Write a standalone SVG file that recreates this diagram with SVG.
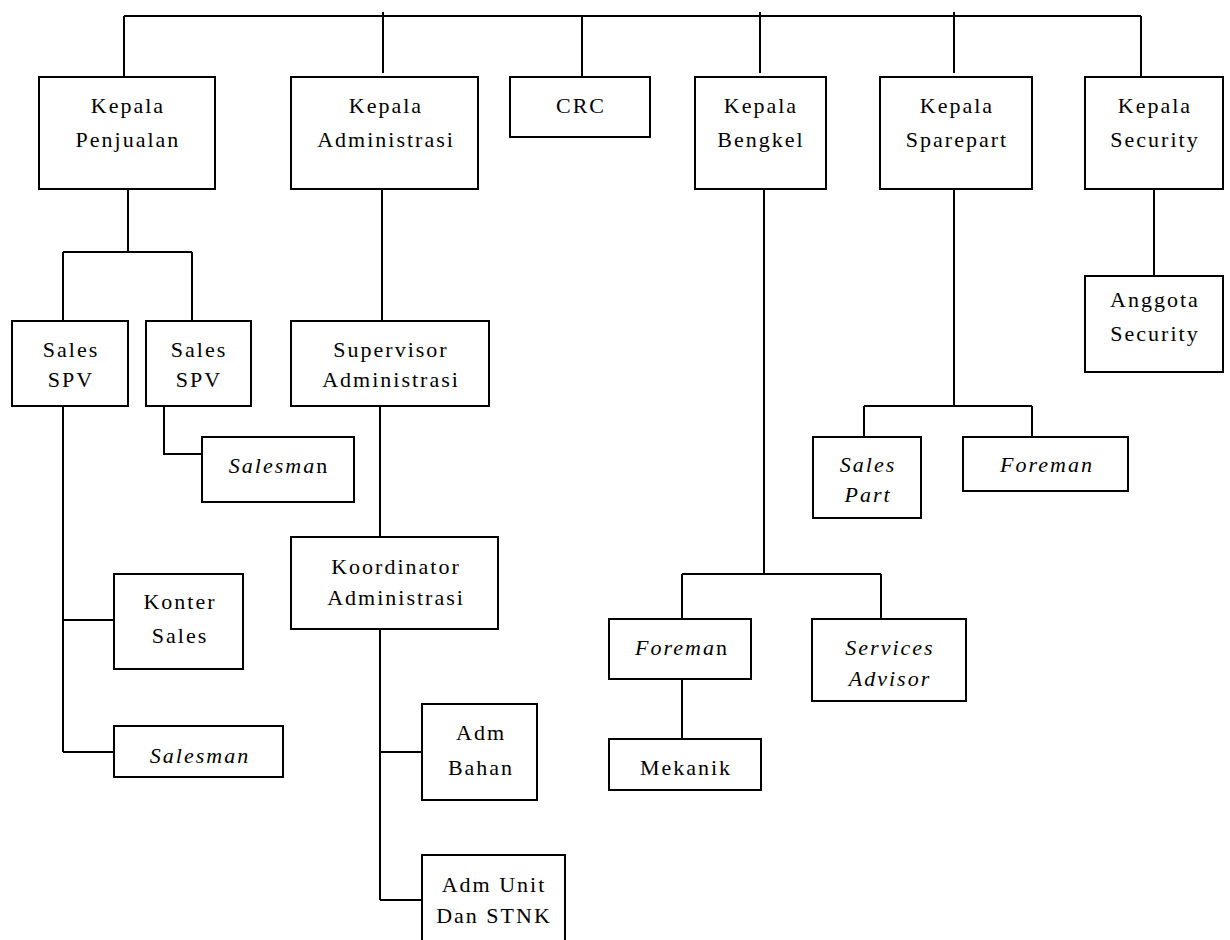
<svg xmlns="http://www.w3.org/2000/svg" width="1230" height="940" viewBox="0 0 1230 940">
<style>
rect{fill:#fff;stroke:#000;stroke-width:2}
#connectors path{fill:none;stroke:#000;stroke-width:2}
text{font-size:22px;letter-spacing:2px;text-anchor:middle;fill:#000}
text.i{font-style:italic}
tspan.n{font-style:normal}
</style>
<rect x="0" y="0" width="1230" height="940" style="stroke:none"/>
<g id="connectors">
<path d="M124,16 H1141 M124,16 V77 M383,12 V73 M582,16 V77 M760,12 V73 M954,12 V73 M1141,16 V77"/>
<path d="M128,189 V252 M63,252 H192 M63,252 V321 M192,252 V321"/>
<path d="M382,189 V321"/>
<path d="M380,406 V537"/>
<path d="M380,629 V900 M380,752 H422 M380,900 H422"/>
<path d="M164,406 V454 H202"/>
<path d="M63,406 V752 M63,620 H114 M63,752 H114"/>
<path d="M764,189 V574 M682,574 H881 M682,574 V619 M881,574 V619"/>
<path d="M682,679 V739"/>
<path d="M954,189 V406 M864,406 H1032 M864,406 V437 M1032,406 V437"/>
<path d="M1154,189 V276"/>
</g>
<g font-family="Liberation Serif, Times New Roman, serif">
<g id="kepala-penjualan"><rect x="39" y="77" width="176" height="112"/><text x="128" y="113">Kepala</text><text x="128" y="147">Penjualan</text></g>
<g id="kepala-administrasi"><rect x="291" y="77" width="187" height="112"/><text x="386" y="113">Kepala</text><text x="386" y="147">Administrasi</text></g>
<g id="crc"><rect x="510" y="77" width="140" height="60"/><text x="581" y="113">CRC</text></g>
<g id="kepala-bengkel"><rect x="695" y="77" width="131" height="112"/><text x="761" y="113">Kepala</text><text x="761" y="147">Bengkel</text></g>
<g id="kepala-sparepart"><rect x="880" y="77" width="152" height="112"/><text x="957" y="113">Kepala</text><text x="957" y="147">Sparepart</text></g>
<g id="kepala-security"><rect x="1085" y="77" width="138" height="112"/><text x="1155" y="113">Kepala</text><text x="1155" y="147">Security</text></g>
<g id="sales-spv-1"><rect x="12" y="321" width="116" height="85"/><text x="71" y="357">Sales</text><text x="71" y="387">SPV</text></g>
<g id="sales-spv-2"><rect x="146" y="321" width="105" height="85"/><text x="199" y="357">Sales</text><text x="199" y="387">SPV</text></g>
<g id="supervisor-administrasi"><rect x="291" y="321" width="198" height="85"/><text x="391" y="357">Supervisor</text><text x="391" y="387">Administrasi</text></g>
<g id="salesman-1"><rect x="202" y="437" width="152" height="65"/><text class="i" x="279" y="473">Salesma<tspan class="n">n</tspan></text></g>
<g id="koordinator-administrasi"><rect x="291" y="537" width="207" height="92"/><text x="396" y="574">Koordinator</text><text x="396" y="605">Administrasi</text></g>
<g id="konter-sales"><rect x="114" y="574" width="129" height="95"/><text x="180" y="609">Konter</text><text x="180" y="643">Sales</text></g>
<g id="salesman-2"><rect x="114" y="726" width="169" height="51"/><text class="i" x="200" y="763">Salesman</text></g>
<g id="adm-bahan"><rect x="422" y="704" width="115" height="96"/><text x="481" y="740">Adm</text><text x="481" y="775">Bahan</text></g>
<g id="adm-unit"><rect x="422" y="855" width="143" height="100"/><text x="494" y="892">Adm Unit</text><text x="494" y="923">Dan STNK</text></g>
<g id="sales-part"><rect x="813" y="437" width="108" height="81"/><text class="i" x="868" y="472">Sales</text><text class="i" x="868" y="502">Part</text></g>
<g id="foreman-sparepart"><rect x="963" y="437" width="165" height="54"/><text class="i" x="1047" y="472">Foreman</text></g>
<g id="foreman-bengkel"><rect x="609" y="619" width="142" height="60"/><text class="i" x="682" y="655">Forema<tspan class="n">n</tspan></text></g>
<g id="services-advisor"><rect x="812" y="619" width="154" height="82"/><text class="i" x="890" y="655">Services</text><text class="i" x="890" y="686">Advisor</text></g>
<g id="mekanik"><rect x="609" y="739" width="152" height="51"/><text x="686" y="775">Mekanik</text></g>
<g id="anggota-security"><rect x="1085" y="276" width="138" height="96"/><text x="1155" y="307">Anggota</text><text x="1155" y="341">Security</text></g>
</g>
</svg>
